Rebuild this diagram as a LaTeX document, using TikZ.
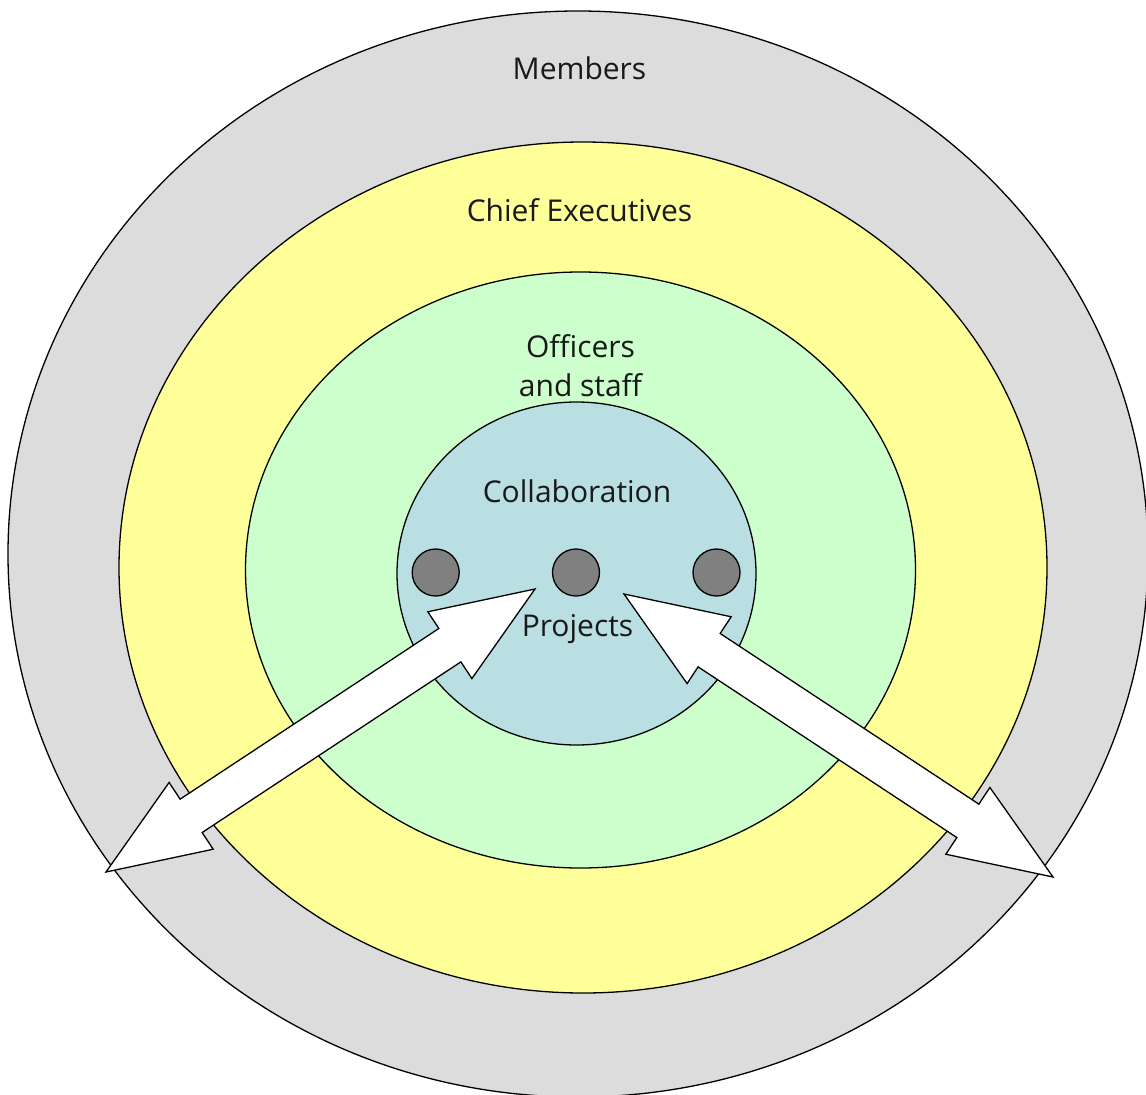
\documentclass[tikz,border=0pt]{standalone}
\usepackage{fontspec}
\setmainfont{Open Sans}
\usetikzlibrary{shapes.geometric,calc}
\definecolor{cgray}{HTML}{DCDCDC}
\definecolor{cyellow}{HTML}{FFFF99}
\definecolor{cgreen}{HTML}{CCFFCC}
\definecolor{cblue}{HTML}{B9DFE3}
\definecolor{cdot}{HTML}{808080}
\tikzset{
  ring/.style={ellipse, draw=black, line width=1.3pt, inner sep=0pt},
  dot/.style={circle, draw=black, line width=1.3pt, fill=cdot, minimum size=47pt, inner sep=0pt},
  lbl/.style={anchor=base, font=\fontsize{30}{39}\selectfont, text=black!90, inner sep=0pt, align=center},
  blockarrow/.style={draw=black, line width=1.3pt, fill=white, line join=miter}
}
\newcommand{\dblarrow}[2]{%
  \draw[blockarrow] (#1)
    -- ($($(#1)!102pt!(#2)$)!40pt!90:(#2)$)
    -- ($($(#1)!102pt!(#2)$)!20pt!90:(#2)$)
    -- ($($(#2)!102pt!(#1)$)!20pt!-90:(#1)$)
    -- ($($(#2)!102pt!(#1)$)!40pt!-90:(#1)$)
    -- (#2)
    -- ($($(#2)!102pt!(#1)$)!40pt!90:(#1)$)
    -- ($($(#2)!102pt!(#1)$)!20pt!90:(#1)$)
    -- ($($(#1)!102pt!(#2)$)!20pt!-90:(#2)$)
    -- ($($(#1)!102pt!(#2)$)!40pt!-90:(#2)$)
    -- cycle;}
\begin{document}
\begin{tikzpicture}[x=1pt,y=-1pt]
\useasboundingbox (0,0) rectangle (1146,1095);
\node[ring, fill=cgray, minimum width=1140pt, minimum height=1086pt] (members) at (578,554) {};
\node[ring, fill=cyellow, minimum width=928pt, minimum height=851pt] (chief) at (583,567.5) {};
\node[ring, fill=cgreen, minimum width=670pt, minimum height=596pt] (officers) at (580.5,570) {};
\node[ring, fill=cblue, minimum width=359pt, minimum height=343pt] (collab) at (576.5,573.5) {};
\node[dot] (p1) at (435.7,572.5) {};
\node[dot] (p2) at (576,572.5) {};
\node[dot] (p3) at (716.5,572.5) {};
\coordinate (la) at (106,872);
\coordinate (lb) at (535,589);
\coordinate (ra) at (624,594);
\coordinate (rb) at (1053,877);
\dblarrow{la}{lb}
\dblarrow{ra}{rb}
\node[lbl] (tmembers) at (579.5,79) {Members};
\node[lbl] (tchief) at (579.5,221) {Chief Executives};
\node[lbl] (tofficers) at (580.5,396) {Officers\\and staff};
\node[lbl] (tcollab) at (577,502) {Collaboration};
\node[lbl] (tprojects) at (577.5,636) {Projects};
\end{tikzpicture}
\end{document}
